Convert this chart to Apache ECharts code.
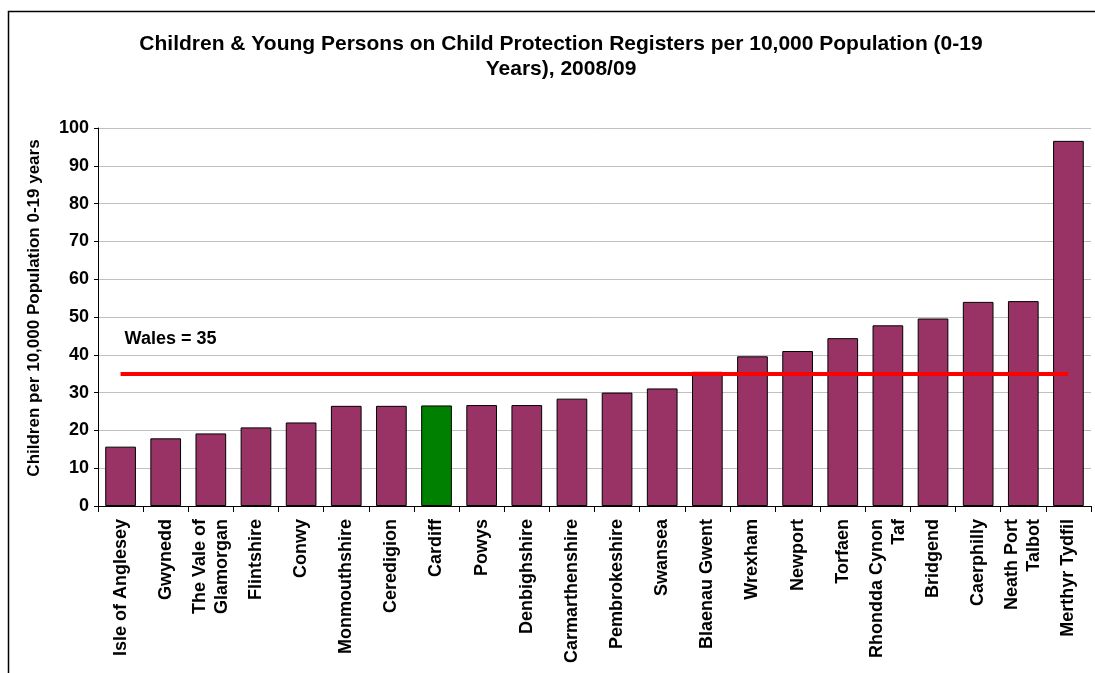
<!DOCTYPE html>
<html>
<head>
<meta charset="utf-8">
<script src="https://cdn.jsdelivr.net/npm/echarts@6/dist/echarts.min.js"></script>
<style>
html,body{margin:0;padding:0;background:#fff;}
#chart{width:1095px;height:673px;}
</style>
</head>
<body>
<div id="chart"></div>
<script>
const categories = [
  'Isle of Anglesey','Gwynedd','The Vale of\nGlamorgan','Flintshire','Conwy',
  'Monmouthshire','Ceredigion','Cardiff','Powys','Denbighshire','Carmarthenshire',
  'Pembrokeshire','Swansea','Blaenau Gwent','Wrexham','Newport','Torfaen',
  'Rhondda Cynon\nTaf','Bridgend','Caerphilly','Neath Port\nTalbot','Merthyr Tydfil'
];
const values = [15.7,17.9,19.2,20.8,22.1,26.5,26.5,26.6,26.7,26.7,28.4,30.0,31.1,35.5,39.6,41.0,44.4,47.8,49.6,54.0,54.2,96.6];
const highlighted = 'Cardiff';
const walesAverage = 35;
const walesLabel = 'Wales = 35';
const yTicks = {min:0, max:100, interval:10};
const titleText = 'Children & Young Persons on Child Protection Registers per 10,000 Population (0-19\nYears), 2008/09';
const yAxisName = 'Children per 10,000 Population 0-19 years';

const FONT = '"Liberation Sans", Arial, sans-serif';
const chart = echarts.init(document.getElementById('chart'), null, {renderer:'canvas'});

const option = {
  animation:false,
  backgroundColor:'#ffffff',
  title:{
    text:titleText,
    left:556, top:27, textAlign:'center',
    textStyle:{fontFamily:FONT, fontWeight:'bold', fontSize:21, lineHeight:25, color:'#000'}
  },
  grid:{left:98, right:4, top:128, bottom:167, containLabel:false},
  xAxis:{
    type:'category',
    data:categories,
    axisLine:{lineStyle:{color:'#000', width:1}},
    axisTick:{show:true, length:6, alignWithLabel:false, lineStyle:{color:'#000'}},
    axisLabel:{rotate:90, interval:0, margin:13, fontFamily:FONT, fontWeight:'bold', fontSize:18, color:'#000', lineHeight:22, align:'right', verticalAlign:'middle'}
  },
  yAxis:{
    type:'value',
    min:yTicks.min, max:yTicks.max, interval:yTicks.interval,
    name:yAxisName, nameLocation:'middle', nameGap:55, nameRotate:90,
    nameTextStyle:{fontFamily:FONT, fontWeight:'bold', fontSize:17, color:'#000', padding:[0,0,0,18]},
    axisLine:{show:true, lineStyle:{color:'#000', width:1}},
    axisTick:{show:true, length:4, lineStyle:{color:'#000'}},
    axisLabel:{margin:9, fontFamily:FONT, fontWeight:'bold', fontSize:18, color:'#000'},
    splitLine:{show:true, lineStyle:{color:'#c0c0c0', width:1}}
  },
  series:[{
    type:'bar',
    data:values.map((v,i)=>({value:v, itemStyle:{color: categories[i]===highlighted ? '#008000' : '#993366'}})),
    barCategoryGap:'32%',
    itemStyle:{borderColor:'#000', borderWidth:1},
    markLine:{
      silent:true, symbol:'none',
      lineStyle:{color:'#ff0000', width:4, type:'solid'},
      label:{show:false},
      data:[[{coord:[categories[0], walesAverage]},{coord:[categories[categories.length-1], walesAverage]}]]
    }
  }],
  graphic:[{
    type:'rect', shape:{x:8.5, y:11.5, width:1200, height:800},
    style:{fill:null, stroke:'#000', lineWidth:1.5}, silent:true, z:-1
  }]
};
chart.setOption(option);

const p = chart.convertToPixel({xAxisIndex:0, yAxisIndex:0}, [0, walesAverage]);
chart.setOption({graphic:[option.graphic[0], {
  type:'text', left: p[0] + 4, top: p[1] - 44,
  style:{text:walesLabel, font:'bold 18px ' + FONT, fill:'#000'}
}]});
</script>
</body>
</html>
